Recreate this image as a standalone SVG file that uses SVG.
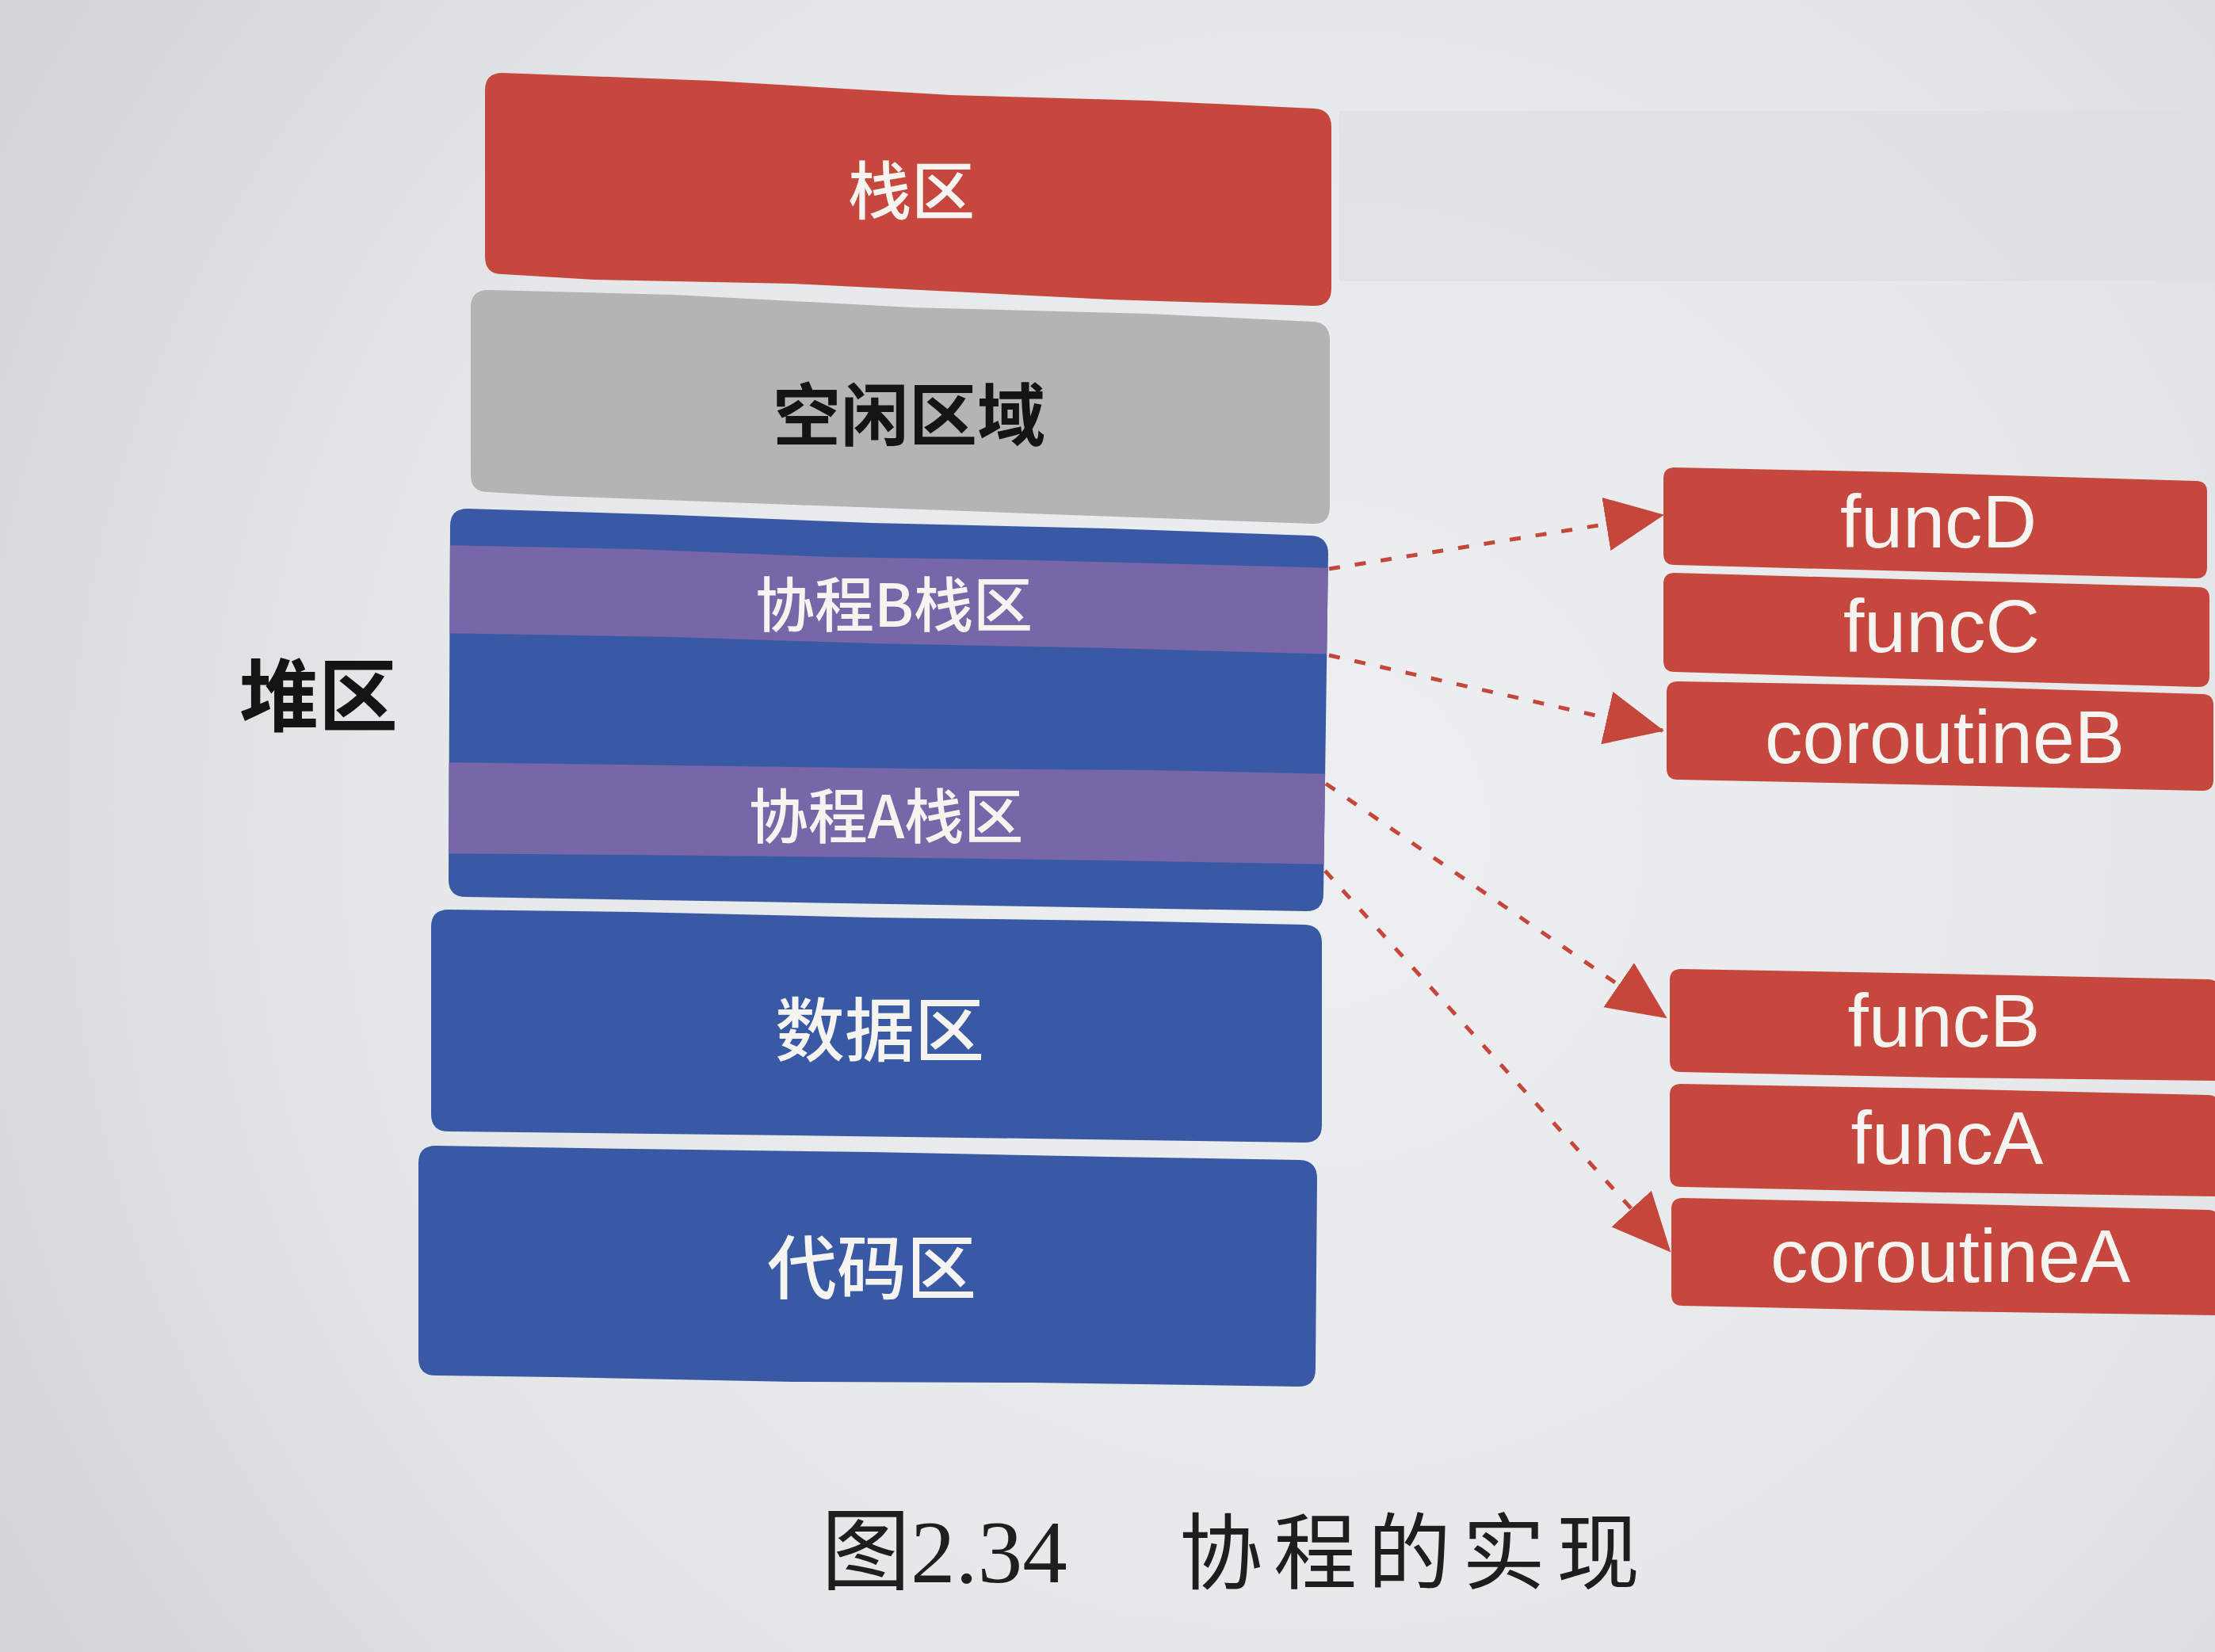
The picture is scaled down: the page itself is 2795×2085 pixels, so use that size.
<svg xmlns="http://www.w3.org/2000/svg" width="2795" height="2085" viewBox="0 0 2795 2085">
<defs>
<radialGradient id="bg" cx="1650" cy="1050" r="1900" gradientUnits="userSpaceOnUse">
<stop offset="0" stop-color="#eeeff0"/>
<stop offset="0.6" stop-color="#e6e7e9"/>
<stop offset="1" stop-color="#d3d5d8"/>
</radialGradient>
<marker id="ah" markerUnits="userSpaceOnUse" markerWidth="78" markerHeight="70" refX="72" refY="34" orient="auto">
<path d="M0,0 L74,34 L0,68 Z" fill="#c5473c"/>
</marker>
<path id="heapShape" d="M590,642 L850,650 L1100,660 L1400,667 L1654,676 Q1676,677 1676,699 L1670,1128 Q1670,1150 1648,1150 L1300,1144 L950,1138 L588,1132 Q566,1132 566,1110 L568,664 Q568,642 590,642 Z"/>
<clipPath id="heapClip"><use href="#heapShape"/></clipPath>
<style>
.red{fill:#c6473d}
.gray{fill:#b3b4b4}
.blue{fill:#3a59a5}
.purple{fill:#7767a9}
.cjk{font-family:"Noto Sans CJK SC","Noto Sans",sans-serif;text-anchor:middle;dominant-baseline:central}
.w{fill:#f6f4f0;font-weight:500}
.k{fill:#141414;font-weight:700}
.lat{font-family:"Liberation Sans",Arial,sans-serif;font-size:95px;fill:#f6f4f0;text-anchor:middle;dominant-baseline:central}
.cap{font-family:"Liberation Serif","Noto Sans CJK SC",serif;font-size:105px;fill:#1e1e1e}
.dash{fill:none;stroke:#c5473c;stroke-width:5;stroke-dasharray:14 19;marker-end:url(#ah)}
</style>
</defs>
<rect x="0" y="0" width="2795" height="2085" fill="url(#bg)"/>
<rect x="1690" y="140" width="1105" height="215" fill="#dcdddf" opacity="0.6"/>

<g id="stack">
<path class="red" d="M634,92 L900,102 L1200,120 L1450,127 L1658,137 Q1680,138 1680,160 L1680,364 Q1680,386 1658,386 L1400,378 L1000,358 L750,353 L634,346 Q612,346 612,324 L612,114 Q612,92 634,92 Z"/>
<text class="cjk w" x="1150" y="235" font-size="80">栈区</text>
</g>

<g id="free">
<path class="gray" d="M616,366 L850,372 L1150,388 L1450,396 L1656,406 Q1678,407 1678,429 L1678,640 Q1678,662 1656,661 L1350,650 L1000,637 L700,626 L616,621 Q594,621 594,599 L594,388 Q594,366 616,366 Z"/>
<text class="cjk k" x="1147" y="518" font-size="86">空闲区域</text>
</g>

<g id="heap">
<use href="#heapShape" class="blue"/>
<g clip-path="url(#heapClip)">
<path class="purple" d="M550,688 L800,693 L1050,703 L1300,707 L1690,717 L1690,826 L1400,818 L1100,812 L850,804 L550,799 Z"/>
<path class="purple" d="M550,962 L850,966 L1150,970 L1450,972 L1690,977 L1690,1091 L1400,1086 L1100,1082 L800,1079 L550,1077 Z"/>
</g>
<text class="cjk w" x="1128" y="758" font-size="75">协程B栈区</text>
<text class="cjk w" x="1118" y="1025" font-size="75">协程A栈区</text>
</g>

<g id="heapLabel">
<text class="cjk k" x="402" y="871" font-size="100">堆区</text>
</g>

<g id="data">
<path class="blue" d="M566,1148 L800,1151 L1100,1158 L1400,1162 L1646,1167 Q1668,1168 1668,1190 L1668,1420 Q1668,1442 1646,1442 L1300,1437 L1000,1433 L566,1428 Q544,1428 544,1406 L544,1170 Q544,1148 566,1148 Z"/>
<text class="cjk w" x="1110" y="1293" font-size="88">数据区</text>
</g>

<g id="code">
<path class="blue" d="M550,1446 L800,1450 L1100,1454 L1400,1460 L1640,1464 Q1662,1465 1662,1487 L1660,1728 Q1660,1750 1638,1750 L1300,1745 L1000,1744 L700,1738 L550,1736 Q528,1736 528,1714 L528,1468 Q528,1446 550,1446 Z"/>
<text class="cjk w" x="1100" y="1593" font-size="88">代码区</text>
</g>

<g id="funcD">
<path class="red" d="M2113,590 L2400,596 L2771,607 Q2785,607 2785,621 L2785,716 Q2785,730 2771,730 L2450,722 L2113,713 Q2099,713 2099,699 L2099,604 Q2099,590 2113,590 Z"/>
<text class="lat" x="2446" y="658">funcD</text>
</g>
<g id="funcC">
<path class="red" d="M2113,723 L2400,731 L2774,741 Q2788,741 2788,755 L2788,853 Q2788,867 2774,867 L2450,858 L2113,848 Q2099,848 2099,834 L2099,737 Q2099,723 2113,723 Z"/>
<text class="lat" x="2450" y="790">funcC</text>
</g>
<g id="coroutineB">
<path class="red" d="M2117,860 L2450,866 L2779,876 Q2793,876 2793,890 L2793,984 Q2793,998 2779,998 L2450,991 L2117,984 Q2103,984 2103,970 L2103,874 Q2103,860 2117,860 Z"/>
<text class="lat" x="2454" y="930">coroutineB</text>
</g>
<g id="funcB">
<path class="red" d="M2121,1223 L2450,1229 L2786,1236 Q2800,1236 2800,1250 L2800,1364 L2450,1360 L2121,1353 Q2107,1353 2107,1339 L2107,1237 Q2107,1223 2121,1223 Z"/>
<text class="lat" x="2453" y="1288">funcB</text>
</g>
<g id="funcA">
<path class="red" d="M2121,1368 L2450,1374 L2786,1382 Q2800,1382 2800,1396 L2800,1510 L2450,1505 L2121,1498 Q2107,1498 2107,1484 L2107,1382 Q2107,1368 2121,1368 Z"/>
<text class="lat" x="2457" y="1436">funcA</text>
</g>
<g id="coroutineA">
<path class="red" d="M2123,1512 L2450,1519 L2786,1527 Q2800,1527 2800,1541 L2800,1660 L2450,1655 L2123,1648 Q2109,1648 2109,1634 L2109,1526 Q2109,1512 2123,1512 Z"/>
<text class="lat" x="2461" y="1585">coroutineA</text>
</g>

<g id="connectors">
<path class="dash" d="M1677,718 L2098,650"/>
<path class="dash" d="M1677,827 L2098,922"/>
<path class="dash" d="M1673,989 L2102,1284"/>
<path class="dash" d="M1672,1099 L2107,1579"/>
</g>

<g id="caption">
<text class="cap" y="1997"><tspan x="1036" font-size="113">图2.34</tspan><tspan x="1488" letter-spacing="14">协程的实现</tspan></text>
</g>
</svg>
